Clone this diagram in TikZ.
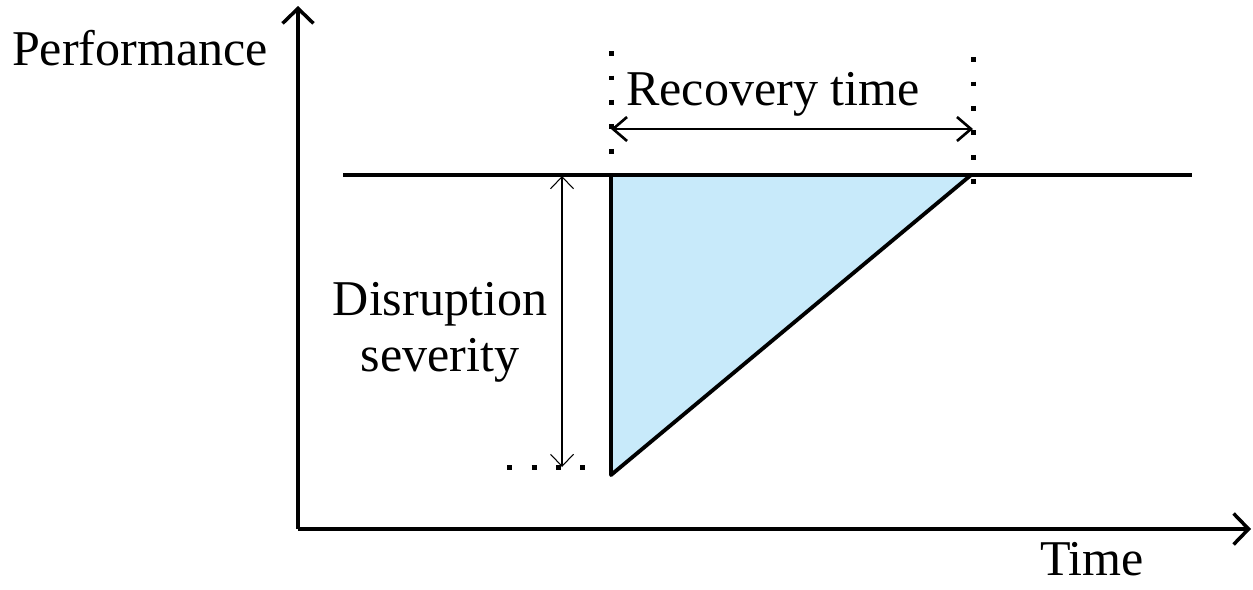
\documentclass[tikz,border=0pt]{standalone}
\usepackage{fontspec}
\setmainfont{Liberation Serif}
\usetikzlibrary{arrows.meta}

\definecolor{lossfill}{RGB}{200,234,250}

\tikzset{
  axisline/.style={line width=2pt, -{Straight Barb[length=0.3cm,width=0.62cm]}},
  thickline/.style={line width=2.2pt},
  dotline/.style={line width=0.1cm, dash pattern=on 0.1cm off 0.39cm},
  spanarrow/.style={line width=1.5pt, {Straight Barb[length=0.28cm,width=0.48cm]}-{Straight Barb[length=0.28cm,width=0.48cm]}},
  thinarrow/.style={line width=0.6pt, {Straight Barb[length=0.24cm,width=0.46cm]}-{Straight Barb[length=0.24cm,width=0.46cm]}},
  lbl/.style={font=\fontsize{28.5}{33}\selectfont, anchor=base, inner sep=0pt}
}

\begin{document}
\begin{tikzpicture}[x=0.02cm, y=-0.02cm]
  \useasboundingbox (0,0) rectangle (1253,589);

  % axes
  \coordinate (origin) at (298,529);
  \coordinate (ytop) at (298,6);
  \coordinate (xend) at (1251,529);
  \draw[axisline] (origin) -- (ytop);
  \draw[axisline] (origin) -- (xend);
  \node[lbl] (perf) at (140,65) {Performance};
  \node[lbl] (time) at (1092,575) {Time};

  % performance curve
  \coordinate (lvlA) at (343,175);
  \coordinate (lvlB) at (1192,175);
  \coordinate (drop) at (611,175);
  \coordinate (low) at (611,475);
  \coordinate (back) at (971,175);
  \fill[lossfill] (drop) -- (low) -- (back) -- cycle;
  \draw[thickline] (lvlA) -- (lvlB);
  \draw[thickline, line join=round] (drop) -- (low) -- (back);

  % recovery time
  \coordinate (rtA) at (611,51);
  \coordinate (rtB) at (973,57);
  \draw[dotline] (rtA) -- (drop);
  \draw[dotline] (rtB) -- (973,192);
  \draw[spanarrow] (611,129) -- (973,129);
  \node[lbl] (rec) at (773,105) {Recovery time};

  % severity
  \coordinate (sevA) at (562,176);
  \coordinate (sevB) at (562,467);
  \draw[dotline] (507,467) -- (592,467);
  \draw[thinarrow] (sevA) -- (sevB);
  \node[lbl] (dis) at (440,315) {Disruption};
  \node[lbl] (sev) at (440,371) {severity};
\end{tikzpicture}
\end{document}
